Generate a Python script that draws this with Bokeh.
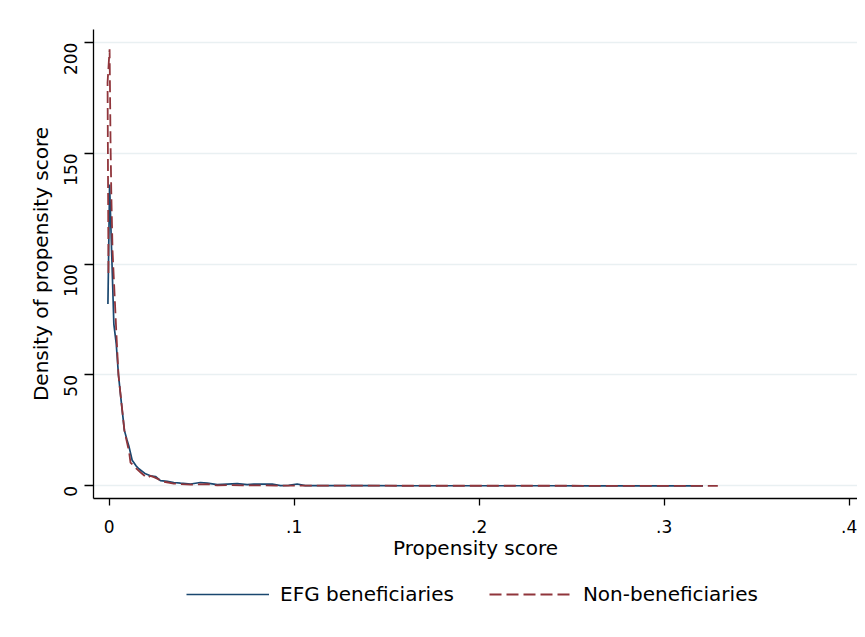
import math
from bokeh.plotting import figure
from bokeh.layouts import column
from bokeh.models import Range1d, FixedTicker, Legend, LegendItem, CustomJSTickFormatter
from bokeh.embed import file_html
from bokeh.resources import INLINE

# ---- data ----
efg_x = [-0.0007, 0.0002, 0.0025, 0.0038, 0.005, 0.0065, 0.0082, 0.0095, 0.0106, 0.0124,
         0.0145, 0.016, 0.0196, 0.0223, 0.025, 0.0277, 0.0314, 0.0349, 0.0385, 0.044,
         0.0493, 0.053, 0.0584, 0.0638, 0.0692, 0.0746, 0.0782, 0.0836, 0.0881, 0.0926,
         0.097, 0.1016, 0.106, 0.12, 0.14, 0.16, 0.18, 0.2, 0.22, 0.24,
         0.26, 0.28, 0.30, 0.321]
efg_y = [82, 136, 73, 64, 50, 38, 25, 21, 18, 11.5,
         9, 7.7, 5.4, 4.5, 4.2, 2.3, 2.0, 1.5, 1.2, 0.8,
         1.5, 1.2, 0.5, 0.8, 1.0, 0.5, 0.8, 0.8, 0.8, 0.1,
         0.2, 0.8, 0.1, 0.05, 0.04, 0.03, 0.03, 0.02, 0.02, 0.02,
         0.01, 0.01, 0.01, 0.01]

non_x = [-0.0004, -0.0009, 0.0002, 0.0007, 0.0011, 0.0018, 0.0038, 0.005, 0.0082, 0.0108,
         0.0115, 0.015, 0.017, 0.0205, 0.0223, 0.0245, 0.0265, 0.0286, 0.0349, 0.044,
         0.053, 0.0584, 0.065, 0.072, 0.08, 0.09, 0.10, 0.12, 0.14, 0.16,
         0.18, 0.20, 0.22, 0.24, 0.26, 0.28, 0.30, 0.329]
non_y = [96, 182, 197, 156, 133, 106, 70, 50, 25, 15,
         10.5, 7.5, 6.0, 3.5, 4.5, 3.8, 3.0, 2.0, 1.0, 0.5,
         0.8, 0.2, 0.3, 0.2, 0.2, 0.1, 0.1, 0.05, 0.04, 0.03,
         0.03, 0.02, 0.02, 0.02, 0.01, 0.01, 0.01, 0.01]

x_ticks = [0, 0.1, 0.2, 0.3, 0.4]
y_ticks = [0, 50, 100, 150, 200]
series_names = ["EFG beneficiaries", "Non-beneficiaries"]
x_title = "Propensity score"
y_title = "Density of propensity score"

FONT = "DejaVu Sans"
BLUE = "#1a476f"
RED = "#90353b"

# ---------------- main chart ----------------
p = figure(width=857, height=565, output_backend="svg", toolbar_location=None,
           x_range=Range1d(-0.0085, 0.4045), y_range=Range1d(-5.73, 205.9),
           min_border_left=93, min_border_top=29, min_border_right=0, min_border_bottom=67)
p.outline_line_color = None
p.background_fill_color = "white"
p.border_fill_color = "white"

p.xgrid.visible = False
p.ygrid.ticker = FixedTicker(ticks=y_ticks)
p.ygrid.grid_line_color = "#e9f0f2"
p.ygrid.grid_line_width = 1.3

fmt = CustomJSTickFormatter(code="""
    if (Math.abs(tick) < 1e-9) return "0";
    return tick.toFixed(1).replace(/^0/, "");
""")

xa = p.xaxis[0]
xa.ticker = FixedTicker(ticks=x_ticks)
xa.formatter = fmt
xa.axis_label = x_title
xa.axis_line_color = "black"
xa.axis_line_width = 1.3
xa.major_tick_line_color = "black"
xa.major_tick_line_width = 1.3
xa.major_tick_out = 7
xa.major_tick_in = 0
xa.minor_tick_line_color = None
xa.major_label_text_font = FONT
xa.major_label_text_font_size = "17px"
xa.major_label_text_color = "black"
xa.major_label_standoff = 14
xa.axis_label_text_font = FONT
xa.axis_label_text_font_size = "20px"
xa.axis_label_text_font_style = "normal"
xa.axis_label_text_color = "black"
xa.axis_label_standoff = 0

ya = p.yaxis[0]
ya.ticker = FixedTicker(ticks=y_ticks)
ya.axis_label = y_title
ya.axis_line_color = "black"
ya.axis_line_width = 1.3
ya.major_tick_line_color = "black"
ya.major_tick_line_width = 1.3
ya.major_tick_out = 9
ya.major_tick_in = 0
ya.minor_tick_line_color = None
ya.major_label_orientation = math.pi / 2
ya.major_label_text_font = FONT
ya.major_label_text_font_size = "17px"
ya.major_label_text_color = "black"
ya.major_label_standoff = 14
ya.axis_label_text_font = FONT
ya.axis_label_text_font_size = "20px"
ya.axis_label_text_font_style = "normal"
ya.axis_label_text_color = "black"
ya.axis_label_standoff = 2

p.line(efg_x, efg_y, line_color=BLUE, line_width=1.7)
p.line(non_x, non_y, line_color=RED, line_width=1.8, line_dash="12 5")

# ---------------- legend strip ----------------
lg = figure(width=857, height=58, output_backend="svg", toolbar_location=None,
            x_range=Range1d(10, 11), y_range=Range1d(10, 11),
            x_axis_type=None, y_axis_type=None,
            min_border=0, min_border_left=0, min_border_right=0,
            min_border_top=0, min_border_bottom=0)
lg.outline_line_color = None
lg.grid.visible = False
lg.background_fill_color = "white"
lg.border_fill_color = "white"
l1 = lg.line(efg_x, efg_y, line_color=BLUE, line_width=1.7)
l2 = lg.line(non_x, non_y, line_color=RED, line_width=1.8, line_dash="12 5")

legend = Legend(items=[LegendItem(label=series_names[0], renderers=[l1]),
                       LegendItem(label=series_names[1], renderers=[l2])],
                orientation="horizontal", location=(93, 17),
                glyph_width=83, glyph_height=20, label_standoff=11, spacing=35,
                padding=0, margin=0, border_line_color=None, background_fill_alpha=0,
                label_text_font=FONT, label_text_font_size="20px", label_text_color="black")
lg.add_layout(legend, "center")

open("out.html", "w").write(file_html(column(p, lg, spacing=0), INLINE))
